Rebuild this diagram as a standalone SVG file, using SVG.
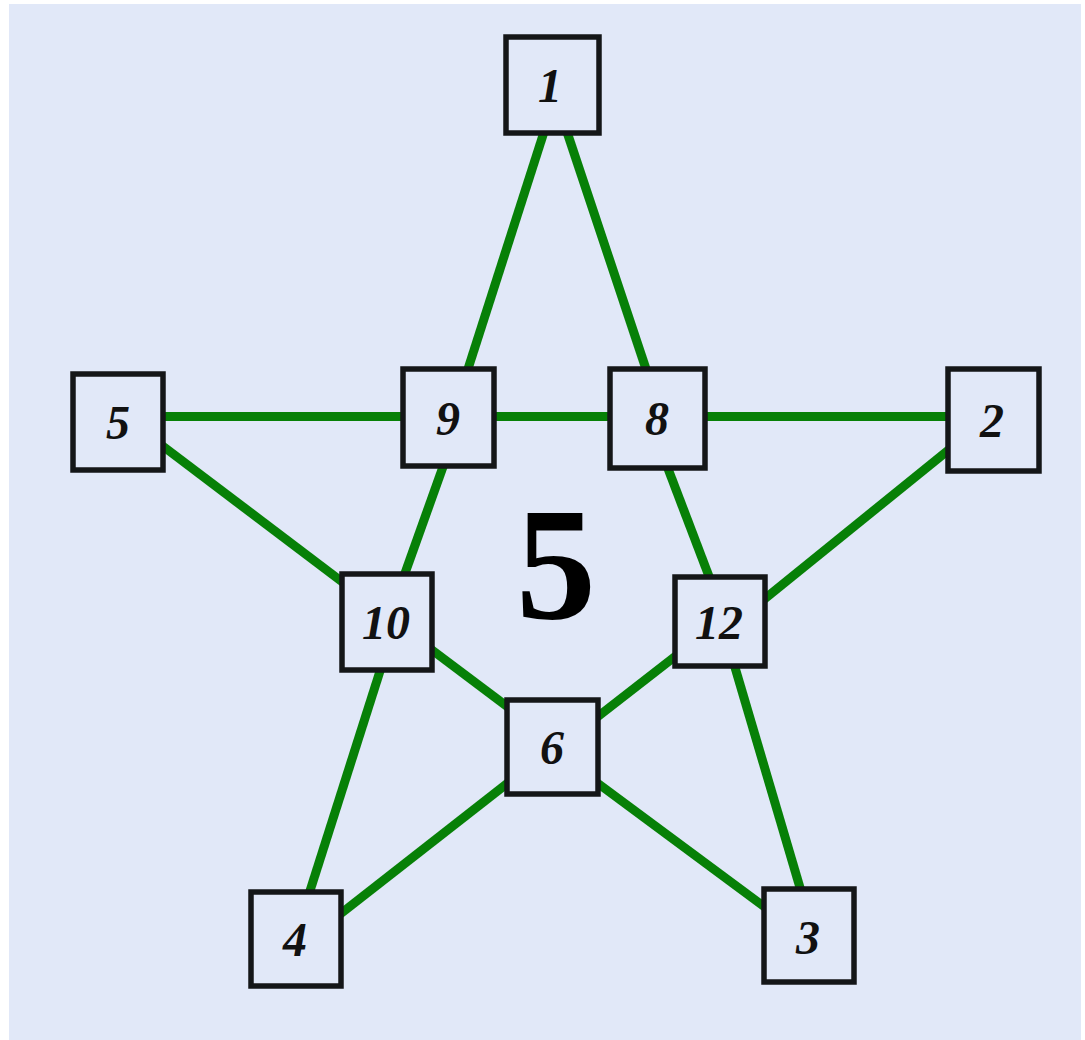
<svg xmlns="http://www.w3.org/2000/svg" width="1085" height="1040" viewBox="0 0 1085 1040">
<style>
.bg{fill:#e1e8f8}
.edge{stroke:#078007;stroke-width:9;stroke-linecap:butt;fill:none}
.box{fill:#e1e8f8;stroke:#141618;stroke-width:5.5}
.lbl{font-family:"Liberation Serif","Times New Roman",serif;font-weight:bold;font-style:italic;font-size:48px;fill:#111;text-anchor:middle}
.big{font-family:"Liberation Serif","Times New Roman",serif;font-weight:bold;font-size:160px;fill:#000;text-anchor:middle}
</style>
<rect x="0" y="0" width="1085" height="1040" fill="#ffffff"/>
<rect class="bg" x="9" y="4" width="1072" height="1036"/>
<g id="connectors">
<line class="edge" x1="118" y1="416.5" x2="993" y2="416.5"/>
<line class="edge" x1="544" y1="132" x2="467" y2="372"/>
<line class="edge" x1="567" y1="132" x2="647" y2="372"/>
<line class="edge" x1="444" y1="464" x2="404" y2="576"/>
<line class="edge" x1="667" y1="466" x2="710" y2="579"/>
<line class="edge" x1="160" y1="444" x2="345" y2="584"/>
<line class="edge" x1="951" y1="448" x2="762" y2="601"/>
<line class="edge" x1="428" y1="647" x2="509" y2="708"/>
<line class="edge" x1="677" y1="655" x2="596" y2="718"/>
<line class="edge" x1="381" y1="668" x2="309" y2="894"/>
<line class="edge" x1="734" y1="664" x2="801" y2="891"/>
<line class="edge" x1="509" y1="782" x2="339" y2="915"/>
<line class="edge" x1="596" y1="782" x2="766" y2="908"/>
</g>
<g id="node-1"><rect class="box" x="506" y="37" width="93" height="96"/><text class="lbl" x="550" y="102">1</text></g>
<g id="node-5"><rect class="box" x="73" y="374" width="90" height="96"/><text class="lbl" x="118" y="439">5</text></g>
<g id="node-9"><rect class="box" x="403" y="369" width="91" height="97"/><text class="lbl" x="448" y="435">9</text></g>
<g id="node-8"><rect class="box" x="610" y="369" width="95" height="99"/><text class="lbl" x="657" y="435">8</text></g>
<g id="node-2"><rect class="box" x="948" y="369" width="91" height="102"/><text class="lbl" x="992" y="437">2</text></g>
<g id="node-10"><rect class="box" x="342" y="574" width="90" height="96"/><text class="lbl" x="386" y="639">10</text></g>
<g id="node-12"><rect class="box" x="675" y="577" width="90" height="89"/><text class="lbl" x="719" y="639">12</text></g>
<g id="node-6"><rect class="box" x="507" y="700" width="91" height="94"/><text class="lbl" x="552" y="764">6</text></g>
<g id="node-4"><rect class="box" x="251" y="892" width="90" height="94"/><text class="lbl" x="295" y="956">4</text></g>
<g id="node-3"><rect class="box" x="764" y="889" width="90" height="93"/><text class="lbl" x="808" y="954">3</text></g>
<text class="big" x="556" y="618">5</text>
</svg>
